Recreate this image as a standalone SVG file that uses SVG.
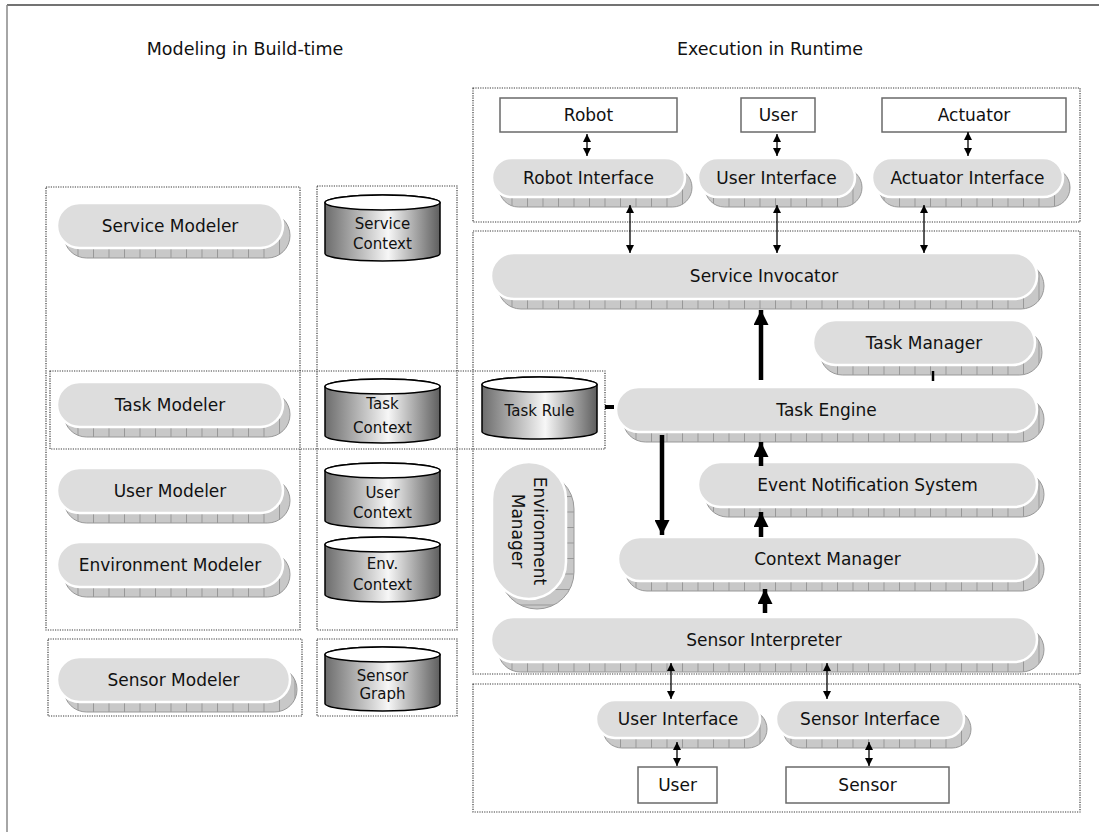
<svg xmlns="http://www.w3.org/2000/svg" width="1099" height="832" viewBox="0 0 1099 832">
<style>
.box{fill:none;stroke:#3a3a3a;stroke-width:1.2;stroke-dasharray:1.2 1.2}
.sh{fill:url(#gv);stroke:#999;stroke-width:1}
.shv{fill:url(#gh);stroke:#999;stroke-width:1}
.pill{fill:#dddddd;stroke:#fff;stroke-width:2.5}
.lbl{font-family:"DejaVu Sans","Liberation Sans",sans-serif;font-size:17px;fill:#111;text-anchor:middle}
.c{font-size:15px}
.ttl{font-size:17.5px}
.rbox{fill:#fff;stroke:#6a6a6a;stroke-width:1.5}
.cyl{fill:url(#cg);stroke:#000;stroke-width:1.5}
.ctop{fill:#fff;stroke:#000;stroke-width:1.5}
.thin{stroke:#000;stroke-width:1.3;fill:none;marker-start:url(#ah);marker-end:url(#ah)}
.thick{stroke:#000;stroke-width:4.5;fill:none;marker-end:url(#ahb)}
.bar{stroke:#000;fill:none}
</style>
<defs>
<pattern id="gv" width="15.5" height="20" patternUnits="userSpaceOnUse">
<rect width="15.5" height="20" fill="#c8c8c8"/>
<line x1="0.5" y1="0" x2="0.5" y2="20" stroke="#8a8a8a" stroke-width="0.8"/>
</pattern>
<pattern id="gh" width="20" height="15.5" patternUnits="userSpaceOnUse">
<rect width="20" height="15.5" fill="#c8c8c8"/>
<line x1="0" y1="0.5" x2="20" y2="0.5" stroke="#8a8a8a" stroke-width="0.8"/>
</pattern>
<linearGradient id="cg" x1="0" y1="0" x2="1" y2="0">
<stop offset="0" stop-color="#6c6c6c"/>
<stop offset="0.55" stop-color="#f7f7f7"/>
<stop offset="1" stop-color="#5e5e5e"/>
</linearGradient>
<marker id="ah" viewBox="0 0 10 10" refX="10" refY="5" markerWidth="8" markerHeight="9" markerUnits="userSpaceOnUse" orient="auto-start-reverse">
<path d="M0,0 L10,5 L0,10 z" fill="#000"/>
</marker>
<marker id="ahb" viewBox="0 0 10 10" refX="10" refY="5" markerWidth="15" markerHeight="15" markerUnits="userSpaceOnUse" orient="auto">
<path d="M0,0 L10,5 L0,10 z" fill="#000"/>
</marker>
</defs>
<rect width="1099" height="832" fill="#fff"/>
<g id="frame">
<line x1="7" y1="5" x2="1099" y2="5" stroke="#444" stroke-width="1.5"/>
<line x1="7" y1="5" x2="7" y2="832" stroke="#888" stroke-width="1.5"/>
</g>
<g id="titles" class="lbl">
<text class="ttl" x="245" y="55">Modeling in Build-time</text>
<text class="ttl" x="770" y="55">Execution in Runtime</text>
</g>
<g id="containers">
<rect class="box" x="46" y="187" width="254" height="443"/>
<rect class="box" x="317" y="186" width="140" height="444"/>
<rect class="box" x="48" y="639" width="254" height="77"/>
<rect class="box" x="317" y="639" width="140" height="77"/>
<rect class="box" x="50" y="371" width="555" height="78"/>
<rect class="box" x="473" y="88" width="607" height="134"/>
<rect class="box" x="473" y="231" width="607" height="443"/>
<rect class="box" x="473" y="684" width="607" height="128"/>
</g>

<g id="service-modeler"><rect class="sh" x="64" y="213" width="226" height="45" rx="22.5"/><rect class="pill" x="57" y="203" width="226" height="45" rx="22.5"/><text class="lbl" x="170" y="231.5">Service Modeler</text></g>
<g id="task-modeler"><rect class="sh" x="64" y="392" width="226" height="45" rx="22.5"/><rect class="pill" x="57" y="382" width="226" height="45" rx="22.5"/><text class="lbl" x="170" y="410.5">Task Modeler</text></g>
<g id="user-modeler"><rect class="sh" x="64" y="478" width="226" height="45" rx="22.5"/><rect class="pill" x="57" y="468" width="226" height="45" rx="22.5"/><text class="lbl" x="170" y="496.5">User Modeler</text></g>
<g id="environment-modeler"><rect class="sh" x="64" y="552" width="226" height="45" rx="22.5"/><rect class="pill" x="57" y="542" width="226" height="45" rx="22.5"/><text class="lbl" x="170" y="570.5">Environment Modeler</text></g>
<g id="sensor-modeler"><rect class="sh" x="64" y="667" width="233" height="45" rx="22.5"/><rect class="pill" x="57" y="657" width="233" height="45" rx="22.5"/><text class="lbl" x="173.5" y="685.5">Sensor Modeler</text></g>

<g id="service-context"><path class="cyl" d="M325,202.5 V253.5 A57.5,7.5 0 0 0 440,253.5 V202.5 A57.5,7.5 0 0 0 325,202.5 Z"/><ellipse class="ctop" cx="382.5" cy="202.5" rx="57.5" ry="7.5"/><text class="lbl c" x="382.5" y="228.5">Service</text><text class="lbl c" x="382.5" y="248.5">Context</text></g>
<g id="task-context"><path class="cyl" d="M325,386.5 V435.5 A57.5,7.5 0 0 0 440,435.5 V386.5 A57.5,7.5 0 0 0 325,386.5 Z"/><ellipse class="ctop" cx="382.5" cy="386.5" rx="57.5" ry="7.5"/><text class="lbl c" x="382.5" y="408.5">Task</text><text class="lbl c" x="382.5" y="432.5">Context</text></g>
<g id="user-context"><path class="cyl" d="M325,470.5 V520.5 A57.5,7.5 0 0 0 440,520.5 V470.5 A57.5,7.5 0 0 0 325,470.5 Z"/><ellipse class="ctop" cx="382.5" cy="470.5" rx="57.5" ry="7.5"/><text class="lbl c" x="382.5" y="497.5">User</text><text class="lbl c" x="382.5" y="517.5">Context</text></g>
<g id="env-context"><path class="cyl" d="M325,544.5 V594.5 A57.5,7.5 0 0 0 440,594.5 V544.5 A57.5,7.5 0 0 0 325,544.5 Z"/><ellipse class="ctop" cx="382.5" cy="544.5" rx="57.5" ry="7.5"/><text class="lbl c" x="382.5" y="568.5">Env.</text><text class="lbl c" x="382.5" y="589.5">Context</text></g>
<g id="sensor-graph"><path class="cyl" d="M325,654.5 V703.5 A57.5,7.5 0 0 0 440,703.5 V654.5 A57.5,7.5 0 0 0 325,654.5 Z"/><ellipse class="ctop" cx="382.5" cy="654.5" rx="57.5" ry="7.5"/><text class="lbl c" x="382.5" y="681">Sensor</text><text class="lbl c" x="382.5" y="699">Graph</text></g>
<g id="task-rule"><path class="cyl" d="M482,384.5 V431.5 A57.5,7.5 0 0 0 597,431.5 V384.5 A57.5,7.5 0 0 0 482,384.5 Z"/><ellipse class="ctop" cx="539.5" cy="384.5" rx="57.5" ry="7.5"/><text class="lbl c" x="539.5" y="416">Task Rule</text></g>

<g id="robot"><rect class="rbox" x="500" y="98" width="177" height="34"/><text class="lbl" x="588.5" y="121">Robot</text></g>
<g id="user-top"><rect class="rbox" x="741" y="98" width="74" height="34"/><text class="lbl" x="778" y="121">User</text></g>
<g id="actuator"><rect class="rbox" x="882" y="98" width="184" height="34"/><text class="lbl" x="974" y="121">Actuator</text></g>
<g id="robot-interface"><rect class="sh" x="499" y="168" width="193" height="39" rx="19.5"/><rect class="pill" x="492" y="158" width="193" height="39" rx="19.5"/><text class="lbl" x="588.5" y="183.5">Robot Interface</text></g>
<g id="user-interface-top"><rect class="sh" x="705" y="168" width="157" height="39" rx="19.5"/><rect class="pill" x="698" y="158" width="157" height="39" rx="19.5"/><text class="lbl" x="776.5" y="183.5">User Interface</text></g>
<g id="actuator-interface"><rect class="sh" x="879" y="168" width="191" height="39" rx="19.5"/><rect class="pill" x="872" y="158" width="191" height="39" rx="19.5"/><text class="lbl" x="967.5" y="183.5">Actuator Interface</text></g>

<g id="service-invocator"><rect class="sh" x="498" y="263" width="546" height="46" rx="23"/><rect class="pill" x="491" y="253" width="546" height="46" rx="23"/><text class="lbl" x="764" y="282">Service Invocator</text></g>
<g id="task-manager"><rect class="sh" x="820" y="330" width="222" height="45" rx="22.5"/><rect class="pill" x="813" y="320" width="222" height="45" rx="22.5"/><text class="lbl" x="924" y="348.5">Task Manager</text></g>
<g id="task-engine"><rect class="sh" x="623" y="397" width="421" height="45" rx="22.5"/><rect class="pill" x="616" y="387" width="421" height="45" rx="22.5"/><text class="lbl" x="826.5" y="415.5">Task Engine</text></g>
<g id="event-notification-system"><rect class="sh" x="705" y="472" width="339" height="45" rx="22.5"/><rect class="pill" x="698" y="462" width="339" height="45" rx="22.5"/><text class="lbl" x="867.5" y="490.5">Event Notification System</text></g>
<g id="context-manager"><rect class="sh" x="625" y="547" width="419" height="44" rx="22"/><rect class="pill" x="618" y="537" width="419" height="44" rx="22"/><text class="lbl" x="827.5" y="565">Context Manager</text></g>
<g id="environment-manager"><rect class="shv" x="500" y="472" width="74" height="137" rx="37"/><rect class="pill" x="492" y="462" width="74" height="137" rx="37"/><text class="lbl" transform="translate(529,531) rotate(90)"><tspan x="0" y="-5">Environment</tspan><tspan x="0" y="17">Manager</tspan></text></g>
<g id="sensor-interpreter"><rect class="sh" x="498" y="627" width="546" height="45" rx="22.5"/><rect class="pill" x="491" y="617" width="546" height="45" rx="22.5"/><text class="lbl" x="764" y="645.5">Sensor Interpreter</text></g>

<g id="user-interface-bottom"><rect class="sh" x="603" y="710" width="164" height="38" rx="19"/><rect class="pill" x="596" y="700" width="164" height="38" rx="19"/><text class="lbl" x="678" y="725">User Interface</text></g>
<g id="sensor-interface"><rect class="sh" x="783" y="710" width="188" height="38" rx="19"/><rect class="pill" x="776" y="700" width="188" height="38" rx="19"/><text class="lbl" x="870" y="725">Sensor Interface</text></g>
<g id="user-bottom"><rect class="rbox" x="638" y="767" width="79" height="36"/><text class="lbl" x="677.5" y="791">User</text></g>
<g id="sensor"><rect class="rbox" x="786" y="767" width="163" height="36"/><text class="lbl" x="867.5" y="791">Sensor</text></g>

<g id="connectors">
<line class="thin" x1="587" y1="134" x2="587" y2="156"/>
<line class="thin" x1="777" y1="134" x2="777" y2="156"/>
<line class="thin" x1="968" y1="132" x2="968" y2="156"/>
<line class="thin" x1="630" y1="205" x2="630" y2="253"/>
<line class="thin" x1="777" y1="205" x2="777" y2="253"/>
<line class="thin" x1="924" y1="205" x2="924" y2="253"/>
<line class="thick" x1="761" y1="380" x2="761" y2="310"/>
<line class="thick" x1="662" y1="435" x2="662" y2="535"/>
<line class="thick" x1="761" y1="466" x2="761" y2="442"/>
<line class="thick" x1="761" y1="537" x2="761" y2="512"/>
<line class="thick" x1="765" y1="613" x2="765" y2="589"/>
<line class="bar" x1="605" y1="407" x2="614" y2="407" stroke-width="4"/>
<line class="bar" x1="933" y1="371" x2="933" y2="381" stroke-width="2.5"/>
<line class="thin" x1="671" y1="663" x2="671" y2="699"/>
<line class="thin" x1="827" y1="663" x2="827" y2="699"/>
<line class="thin" x1="677" y1="742" x2="677" y2="766"/>
<line class="thin" x1="869" y1="742" x2="869" y2="766"/>
</g>
</svg>
